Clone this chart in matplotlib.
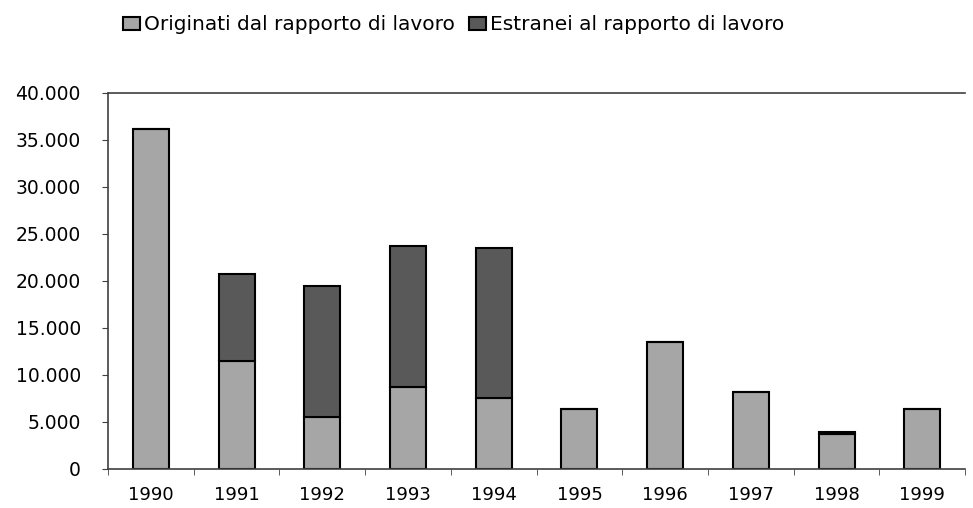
import matplotlib.pyplot as plt
import numpy as np
from matplotlib.ticker import FuncFormatter, FixedLocator

plt.rcParams["font.family"] = ["DejaVu Sans"]

years = ["1990", "1991", "1992", "1993", "1994", "1995", "1996", "1997", "1998", "1999"]
originati = [36200, 11500, 5500, 8700, 7500, 6350, 13550, 8200, 3700, 6350]
estranei = [0, 9200, 14000, 15050, 16000, 0, 0, 0, 250, 0]

light = "#a6a6a6"
dark = "#595959"

fig = plt.figure(figsize=(9.73, 5.08), dpi=100)
ax = fig.add_axes([0.111, 0.077, 0.881, 0.740])

x = np.arange(len(years))
w = 0.42
ax.bar(x, originati, w, color=light, edgecolor="black", linewidth=1.5,
       label="Originati dal rapporto di lavoro")
ax.bar(x, estranei, w, bottom=originati, color=dark, edgecolor="black", linewidth=1.5,
       label="Estranei al rapporto di lavoro")

ax.set_xlim(-0.5, len(years) - 0.5)
ax.set_ylim(0, 40000)
ax.set_yticks(np.arange(0, 40001, 5000))
ax.yaxis.set_major_formatter(FuncFormatter(lambda v, p: f"{int(v):,}".replace(",", ".")))

ax.set_xticks(x)
ax.set_xticklabels(years)
ax.xaxis.set_minor_locator(FixedLocator(np.arange(-0.5, len(years), 1.0)))
ax.tick_params(axis="x", which="major", length=0, pad=12, labelsize=13)
ax.tick_params(axis="x", which="minor", length=4.5, color="#404040", direction="out")
ax.tick_params(axis="y", length=4.5, color="#404040", pad=15, labelsize=13.5)

for s in ["left", "bottom", "top"]:
    ax.spines[s].set_color("#404040")
    ax.spines[s].set_linewidth(1.2)
ax.spines["right"].set_visible(False)

fig.legend(loc="center", bbox_to_anchor=(0.466, 0.951), ncol=2, frameon=False,
           fontsize=14.5, handlelength=0.85, handleheight=0.65, handletextpad=0.2,
           columnspacing=0.7, borderpad=0)

fig.savefig("out.png", dpi=100)
